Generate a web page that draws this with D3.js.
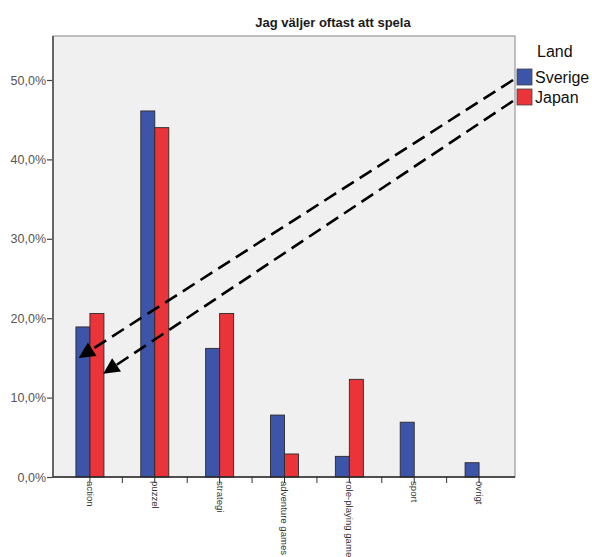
<!DOCTYPE html>
<html>
<head>
<meta charset="utf-8">
<script src="https://cdn.jsdelivr.net/npm/d3@7"></script>
<style>
  html, body { margin: 0; padding: 0; background: #ffffff; }
  svg { display: block; font-family: "Liberation Sans", Arial, sans-serif; }
</style>
</head>
<body>
<svg id="chart" width="592" height="557"></svg>
<script>
// Game genres chosen most often, share of respondents per country
const categories = ["action", "puzzel", "strategi", "adventure games", "role-playing games", "sport", "övrigt"];
const seriesNames = ["Sverige", "Japan"];
const sverige = [0.189, 0.461, 0.162, 0.078, 0.026, 0.069, 0.018];
const japan   = [0.206, 0.440, 0.206, 0.029, 0.123, null, null];
const seriesColors = ["#3d55a8", "#eb343a"];
const yTicks = [0, 0.1, 0.2, 0.3, 0.4, 0.5];
const titleText = "Jag väljer oftast att spela";
const legendTitle = "Land";

const svg = d3.select("#chart");

// plot frame
const frame = { left: 53, right: 515, top: 36, bottom: 477 };

const x = d3.scaleBand()
  .domain(categories)
  .range([57.5, 511.5])
  .paddingInner(0)
  .paddingOuter(0);

const x1 = d3.scaleBand()
  .domain(seriesNames)
  .range([x.bandwidth() / 2 - 14, x.bandwidth() / 2 + 14]);

const y = d3.scaleLinear()
  .domain([0, (frame.bottom - frame.top) / 794])
  .range([frame.bottom, frame.top]);

// background
svg.append("rect")
  .attr("x", frame.left).attr("y", frame.top)
  .attr("width", frame.right - frame.left)
  .attr("height", frame.bottom - frame.top)
  .attr("fill", "#f0f0f0")
  .attr("stroke", "#9a9a9a")
  .attr("stroke-width", 1.2);

// title
svg.append("text")
  .attr("x", 333).attr("y", 27)
  .attr("text-anchor", "middle")
  .attr("font-size", 13)
  .attr("font-weight", "bold")
  .attr("fill", "#1a1a1a")
  .text(titleText);

// bars
const rows = categories.map((c, i) => ({ cat: c, values: [sverige[i], japan[i]] }));
const groups = svg.append("g").selectAll("g")
  .data(rows).join("g")
  .attr("transform", d => `translate(${x(d.cat)},0)`);

groups.selectAll("rect")
  .data(d => d.values.map((v, j) => ({ name: seriesNames[j], v, j })).filter(e => e.v != null))
  .join("rect")
  .attr("x", e => x1(e.name))
  .attr("width", x1.bandwidth())
  .attr("y", e => y(e.v))
  .attr("height", e => y(0) - y(e.v))
  .attr("fill", e => seriesColors[e.j])
  .attr("stroke", "#2a2a2a")
  .attr("stroke-width", 0.9);

// y axis
const yAxis = d3.axisLeft(y)
  .tickValues(yTicks)
  .tickSize(6)
  .tickFormat(d => d3.format(".1f")(d * 100).replace(".", ",") + "%");

const yg = svg.append("g")
  .attr("transform", `translate(${frame.left},0)`)
  .call(yAxis);
yg.select(".domain").remove();
yg.selectAll(".tick line").attr("stroke", "#444").attr("stroke-width", 1.2);
yg.selectAll(".tick text")
  .attr("x", -7)
  .attr("font-size", 12.5)
  .attr("font-family", "Liberation Sans, Arial, sans-serif")
  .attr("fill", "#555");

svg.append("line")
  .attr("x1", frame.left).attr("x2", frame.left)
  .attr("y1", frame.top).attr("y2", frame.bottom)
  .attr("stroke", "#666").attr("stroke-width", 2);

// x axis: ticks at category centres and at the boundaries between categories
const xAxis = d3.axisBottom(x).tickSize(6).tickSizeOuter(0);
const xg = svg.append("g")
  .attr("transform", `translate(0,${frame.bottom})`)
  .call(xAxis);
xg.select(".domain").remove();
xg.selectAll(".tick line").attr("stroke", "#333");
xg.selectAll(".tick text")
  .attr("transform", "rotate(90)")
  .attr("x", 4)
  .attr("y", 0)
  .attr("dy", "0.32em")
  .attr("text-anchor", "start")
  .attr("font-size", 9.6)
  .attr("font-family", "Liberation Sans, Arial, sans-serif")
  .attr("fill", "#333");

svg.append("g").selectAll("line")
  .data(categories.slice(1))
  .join("line")
  .attr("x1", d => x(d)).attr("x2", d => x(d))
  .attr("y1", frame.bottom).attr("y2", frame.bottom + 6)
  .attr("stroke", "#333");

svg.append("line")
  .attr("x1", frame.left).attr("x2", frame.right)
  .attr("y1", frame.bottom).attr("y2", frame.bottom)
  .attr("stroke", "#2a2a2a").attr("stroke-width", 1.3);

// legend
const legend = svg.append("g").attr("transform", "translate(517,69)");
legend.append("text")
  .attr("x", 20).attr("y", -12)
  .attr("font-size", 16)
  .attr("fill", "#111")
  .text(legendTitle);
seriesNames.forEach((n, i) => {
  legend.append("rect")
    .attr("x", 0).attr("y", i * 20)
    .attr("width", 15).attr("height", 16)
    .attr("fill", seriesColors[i])
    .attr("stroke", "#444").attr("stroke-width", 0.8);
  legend.append("text")
    .attr("x", 18).attr("y", i * 20 + 14)
    .attr("font-size", 16)
    .attr("fill", "#111")
    .text(n);
});

// dashed arrows from the legend entries down to the action bars
const arrows = [
  { from: [frame.right - 2, 80], toCat: "action", toSeries: "Sverige", offset: 0.2, toValue: 0.150 },
  { from: [frame.right - 2, 101], toCat: "action", toSeries: "Japan", offset: 0.95, toValue: 0.130 }
];
const headLen = 16, headHalf = 8;
arrows.forEach(a => {
  const tx = x(a.toCat) + x1(a.toSeries) + x1.bandwidth() * a.offset;
  const ty = y(a.toValue);
  const [fx, fy] = a.from;
  const dx = fx - tx, dy = fy - ty;
  const len = Math.hypot(dx, dy);
  const ux = dx / len, uy = dy / len;
  const bx = tx + ux * headLen, by = ty + uy * headLen;
  svg.append("line")
    .attr("x1", fx).attr("y1", fy)
    .attr("x2", bx).attr("y2", by)
    .attr("stroke", "#000")
    .attr("stroke-width", 2.6)
    .attr("stroke-dasharray", "14,7");
  svg.append("path")
    .attr("d", d3.line()([
      [tx, ty],
      [bx - uy * headHalf, by + ux * headHalf],
      [bx + uy * headHalf, by - ux * headHalf]
    ]) + "Z")
    .attr("fill", "#000");
});
</script>
</body>
</html>
